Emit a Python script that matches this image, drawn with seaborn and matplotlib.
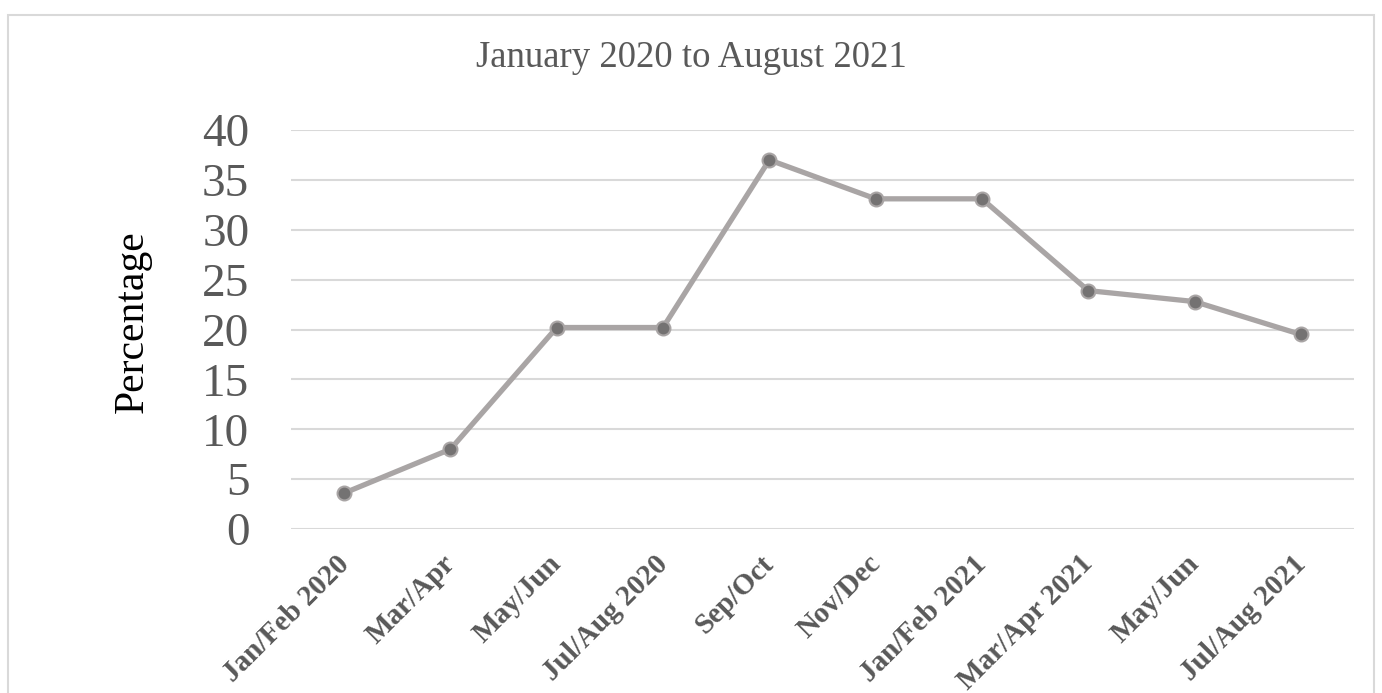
import matplotlib
matplotlib.use("Agg")
import matplotlib.pyplot as plt
import matplotlib.transforms as mtransforms
import seaborn as sns
import pandas as pd
from matplotlib.patches import Rectangle

periods = ["Jan/Feb 2020", "Mar/Apr", "May/Jun", "Jul/Aug 2020", "Sep/Oct",
           "Nov/Dec", "Jan/Feb 2021", "Mar/Apr 2021", "May/Jun", "Jul/Aug 2021"]
percentages = [3.6, 8.0, 20.2, 20.2, 37.0, 33.1, 33.1, 23.9, 22.8, 19.5]
y_ticks = [0, 5, 10, 15, 20, 25, 30, 35, 40]
title = "January 2020 to August 2021"
y_label = "Percentage"

sns.set_theme(style="white")
plt.rcParams["font.family"] = ["Liberation Serif", "DejaVu Serif"]

df = pd.DataFrame({"idx": list(range(len(periods))), "pct": percentages})

fig = plt.figure(figsize=(13.82, 6.93), dpi=100)
fig.patch.set_facecolor("white")
fig.patches.append(Rectangle((8 / 1382, -0.05), (1374 - 8) / 1382, (693 - 15) / 693 + 0.05,
                             transform=fig.transFigure, fill=False,
                             edgecolor="#D9D9D9", linewidth=1.5))

ax = fig.add_axes([291 / 1382, 1 - 529 / 693, (1354 - 291) / 1382, (529 - 130) / 693])

sns.lineplot(data=df, x="idx", y="pct", ax=ax, color="#A9A5A5", linewidth=3.8,
             marker="o", markersize=10, markerfacecolor="#747272",
             markeredgecolor="#A9A5A5", markeredgewidth=1.5, sort=False)

ax.set_xlim(-0.5, len(periods) - 0.5)
ax.set_ylim(0, 40)
ax.set_yticks(y_ticks)
ax.set_yticklabels([str(t) for t in y_ticks], fontsize=34, color="#595959")
ax.set_xticks(range(len(periods)))
ax.set_xticklabels(periods, rotation=45, ha="right", rotation_mode="anchor",
                   fontsize=21, fontweight="bold", color="#595959")
ax.tick_params(axis="y", length=0, pad=30)
ax.tick_params(axis="x", length=0, pad=16)
offset = mtransforms.ScaledTranslation(-9 / 100, 1 / 100, fig.dpi_scale_trans)
for lbl in ax.get_xticklabels():
    lbl.set_transform(lbl.get_transform() + offset)
ax.grid(axis="y", color="#D9D9D9", linewidth=1.5)
ax.set_axisbelow(True)
for s in ax.spines.values():
    s.set_visible(False)

ax.set_xlabel("")
ax.set_ylabel(y_label, fontsize=30, color="black")
ax.yaxis.set_label_coords(-0.131, 0.52)

fig.text(0.5, 1 - 58 / 693, title, ha="center", va="center", fontsize=26.5, color="#595959")

fig.savefig("out.png", dpi=100, facecolor="white")
